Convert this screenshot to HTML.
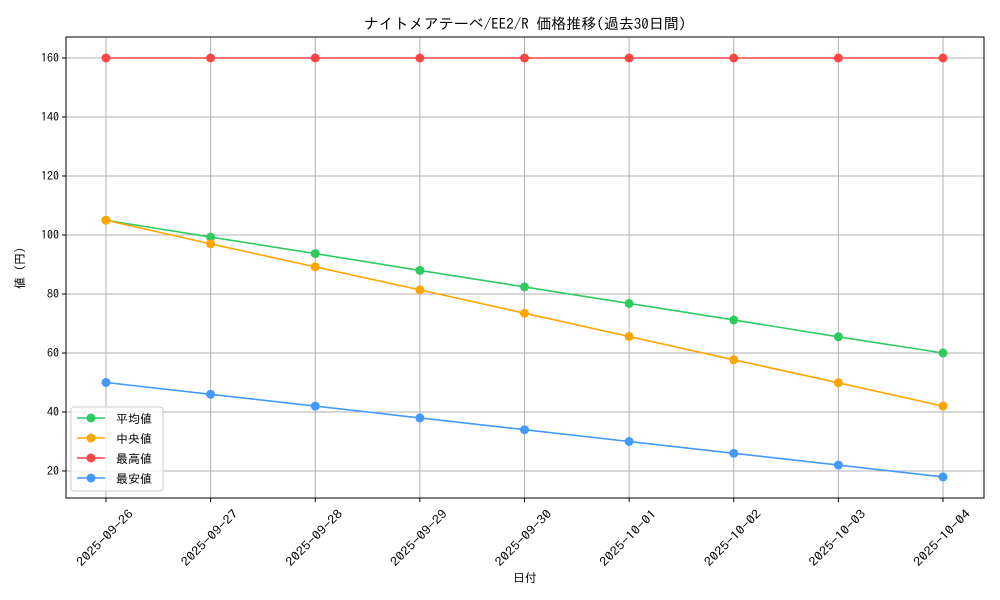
<!DOCTYPE html>
<html><head><meta charset="utf-8">
<style>
body{margin:0;background:#fff;}
svg{display:block;font-family:"IPAGothic","Liberation Sans","Noto Sans CJK JP",sans-serif;}
</style></head>
<body>
<svg id="chart" width="1000" height="600"></svg>
<script>
const categories=["2025-09-26","2025-09-27","2025-09-28","2025-09-29","2025-09-30","2025-10-01","2025-10-02","2025-10-03","2025-10-04"];
const avgValues=[105,99.3,93.7,88,82.4,76.8,71.2,65.5,60];
const medianValues=[105,97,89.2,81.4,73.5,65.6,57.7,49.9,42];
const maxValues=[160,160,160,160,160,160,160,160,160];
const minValues=[50,46,42,38,34,30,26,22,18];
const yTicks=[20,40,60,80,100,120,140,160];
const seriesNames=["平均値","中央値","最高値","最安値"];

const NS="http://www.w3.org/2000/svg";
const svg=document.getElementById('chart');
const L=66,R=984,T=37,B=498;
const x=i=>106+i*(943-106)/(categories.length-1);
const y=v=>471-(v-20)*(471-58)/140;
function mk(tag,attrs,parent){const e=document.createElementNS(NS,tag);for(const k in attrs)e.setAttribute(k,attrs[k]);(parent||svg).appendChild(e);return e;}

const grid=mk('g',{});


categories.forEach((c,i)=>{mk('line',{x1:x(i),x2:x(i),y1:T,y2:B,stroke:'#b0b0b0','stroke-width':1},grid);});
yTicks.forEach(v=>{mk('line',{x1:L,x2:R,y1:y(v),y2:y(v),stroke:'#b0b0b0','stroke-width':1},grid);});

const frame=mk('rect',{x:L,y:T,width:R-L,height:B-T,fill:'none',stroke:'#000','stroke-width':1});



yTicks.forEach(v=>{
  mk('line',{x1:L-4,x2:L,y1:y(v),y2:y(v),stroke:'#000'});
  const t=mk('text',{x:L-7,y:y(v)+4,'text-anchor':'end','font-size':12},svg);t.textContent=v;
  
  
});
categories.forEach((c,i)=>{
  mk('line',{x1:x(i),x2:x(i),y1:B,y2:B+4,stroke:'#000'});
  const cx=x(i)-1, cy=538;
  const t=mk('text',{x:cx,y:cy+4,'text-anchor':'middle','font-size':12,textLength:74,lengthAdjust:'spacingAndGlyphs',transform:`rotate(-45 ${cx} ${cy})`});
  t.textContent=c;
  
  
});

const colors=['#2ecc5f','#ffa500','#ff4444','#4499ff'];
const data=[avgValues,medianValues,maxValues,minValues];
const keys=['average','median','max','min'];
data.forEach((vals,s)=>{
  const g=mk('g',{});
  
  
  mk('polyline',{points:vals.map((v,i)=>x(i)+','+y(v)).join(' '),fill:'none',stroke:colors[s],'stroke-width':1.6},g);
  vals.forEach((v,i)=>{const c=mk('circle',{cx:x(i),cy:y(v),r:4.5,fill:colors[s]},g);
    
    });
});

const title=mk('text',{x:525,y:29,'text-anchor':'middle','font-size':15});
title.textContent='ナイトメアテーベ/EE2/R 価格推移(過去30日間)';


const xt=mk('text',{x:525,y:582,'text-anchor':'middle','font-size':12});xt.textContent='日付';


const yt=mk('text',{x:24,y:268,'text-anchor':'middle','font-size':12,transform:'rotate(-90 24 268)'});yt.textContent='値 (円)';



const lg=mk('g',{});


mk('rect',{x:71,y:407,width:92,height:84,fill:'#fff','fill-opacity':0.8,stroke:'#ccc',rx:3},lg);
seriesNames.forEach((n,i)=>{
  const yy=418+i*20;
  const e=mk('g',{},lg);
  
  
  mk('line',{x1:77,x2:105,y1:yy,y2:yy,stroke:colors[i],'stroke-width':1.6},e);
  mk('circle',{cx:91,cy:yy,r:4.5,fill:colors[i]},e);
  const t=mk('text',{x:116,y:yy+5,'font-size':12},e);t.textContent=n;
});
</script>
</body></html>
